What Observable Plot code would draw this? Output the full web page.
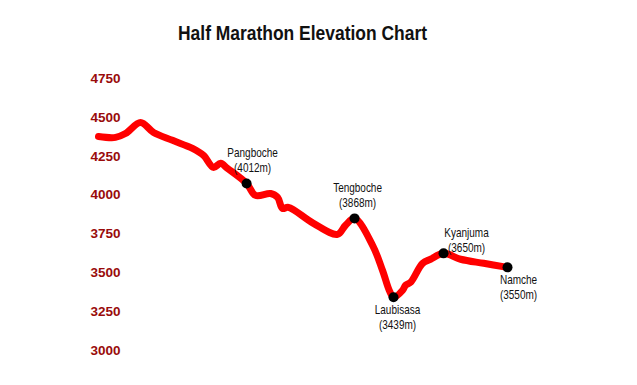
<!DOCTYPE html>
<html>
<head>
<meta charset="utf-8">
<script src="https://cdn.jsdelivr.net/npm/d3@7"></script>
<script src="https://cdn.jsdelivr.net/npm/@observablehq/plot@0.6"></script>
<style>
  body { margin: 0; background: #fff; width: 637px; height: 385px; overflow: hidden; }
  #title { position: relative; height: 50px; font-family: "Liberation Sans", Arial, sans-serif; font-weight: bold; font-size: 19.5px; line-height: 1; color: #111; }
  #title span { position: absolute; left: 178px; top: 24px; white-space: nowrap; transform-origin: 0 0; }
</style>
</head>
<body>
<div id="title"><span id="titletext">Half Marathon Elevation Chart</span></div>
<div id="chart"></div>
<script>
// Course profile (distance in km, elevation in m)
const profileKm = [0, 0.88, 1.39, 2.17, 2.84, 3.82, 4.85, 5.42, 5.93, 6.30, 6.66, 7.64, 8.10, 8.88, 9.24, 9.49, 9.80, 11.09, 12.33, 12.74, 13.21, 14.14, 14.65, 15.02, 15.22, 15.69, 15.84, 16.10, 16.72, 17.13, 17.80, 18.68, 19.87, 21.1];
const profileElev = [4377, 4371, 4396, 4467, 4403, 4352, 4300, 4255, 4178, 4204, 4171, 4075, 3998, 4010, 3985, 3914, 3921, 3818, 3747, 3805, 3850, 3677, 3516, 3381, 3343, 3388, 3420, 3439, 3561, 3587, 3625, 3587, 3561, 3535];

// Named places on the course
const placeNames = ["Pangboche", "Tengboche", "Laubisasa", "Kyanjuma", "Namche"];
const placeKm = [7.64, 13.21, 15.22, 17.80, 21.1];
const placeStatedElev = [4012, 3868, 3439, 3650, 3550];

// Y axis tick labels
const yTicks = [3000, 3250, 3500, 3750, 4000, 4250, 4500, 4750];

const profile = profileKm.map((km, i) => ({km, elev: profileElev[i]}));
const places = placeNames.map((name, i) => ({
  name,
  km: placeKm[i],
  elev: profileElev[profileKm.indexOf(placeKm[i])],
  label: `${name}\n(${placeStatedElev[i]}m)`
}));

// label placement (style, not data)
const labelPlacement = {
  Pangboche: {dx: 6, dy: -24},
  Tengboche: {dx: 3, dy: -24},
  Laubisasa: {dx: 4, dy: 20},
  Kyanjuma: {dx: 23, dy: -14},
  Namche: {dx: 11, dy: 19}
};

const chart = Plot.plot({
  width: 637,
  height: 335,
  marginLeft: 98,
  marginRight: 130,
  marginTop: 28,
  marginBottom: 35,
  x: {domain: [0, 21.1], axis: null},
  y: {domain: [3000, 4750], axis: null},
  style: {background: "#fff", overflow: "visible"},
  marks: [
    Plot.axisY({
      ticks: yTicks,
      tickSize: 0,
      tickPadding: -22,
      tickFormat: d => String(d),
      fill: "#990b0b",
      fontWeight: "bold",
      fontSize: 13.5,
      fontFamily: '"Liberation Sans", Arial, sans-serif',
      label: null
    }),
    Plot.line(profile, {
      x: "km", y: "elev",
      stroke: "#ff0000",
      strokeWidth: 7,
      strokeLinecap: "round",
      strokeLinejoin: "round",
      curve: "catmull-rom"
    }),
    Plot.dot(places, {x: "km", y: "elev", r: 5, fill: "#000", stroke: "none"}),
    ...places.map(p => Plot.text([p], {
      x: "km", y: "elev", text: "label",
      dx: labelPlacement[p.name].dx,
      dy: labelPlacement[p.name].dy,
      fontSize: 12.5,
      lineHeight: 1.2,
      fontFamily: '"Liberation Sans", Arial, sans-serif',
      fill: "#111",
      textAnchor: "middle",
      lineAnchor: "middle"
    }))
  ]
});
document.getElementById("chart").appendChild(chart);

// condense the place labels (the reference uses a narrow face)
chart.querySelectorAll('g[aria-label="text"] text').forEach(tx => {
  const tr = tx.getAttribute("transform") || "";
  tx.setAttribute("transform", tr + " scale(0.8,1)");
});
// condense the title to the reference width
const t = document.getElementById("titletext");
const tw = t.getBoundingClientRect().width;
t.style.transform = `scaleX(${249 / tw})`;
</script>
</body>
</html>
